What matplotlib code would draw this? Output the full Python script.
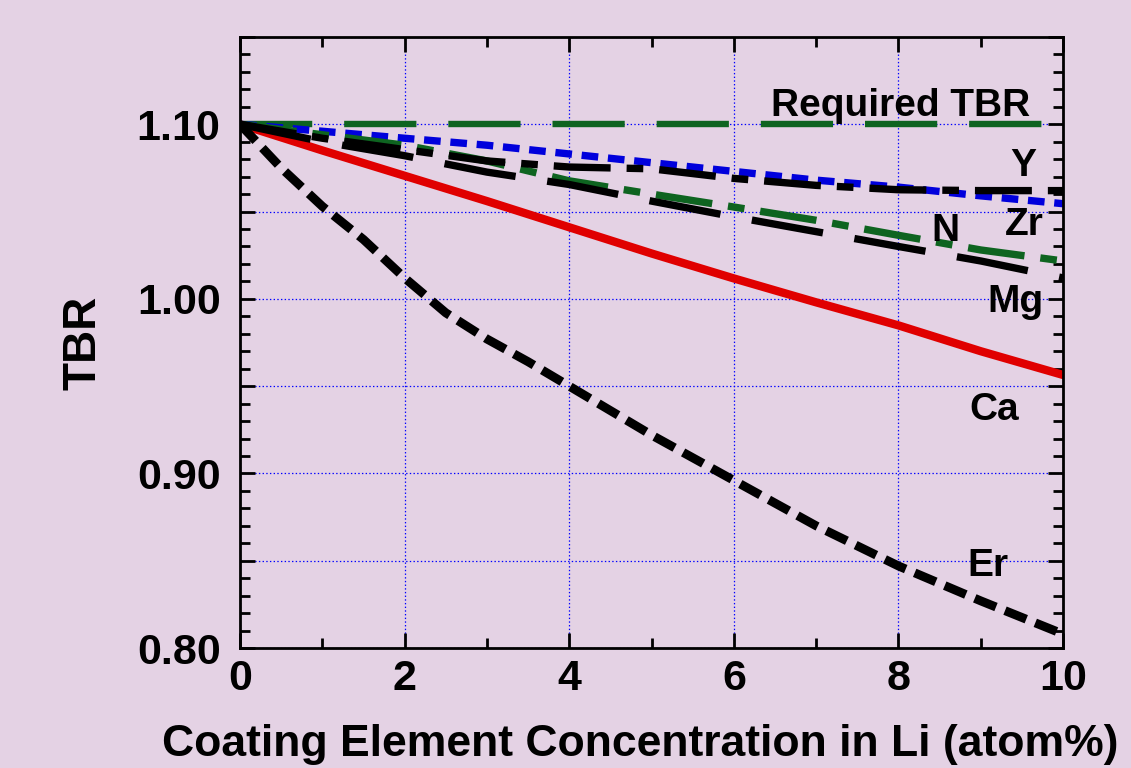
import numpy as np
import matplotlib
matplotlib.use("Agg")
import matplotlib.pyplot as plt
from matplotlib.ticker import MultipleLocator, FuncFormatter

# TBR vs coating element concentration
conc = [0, 1, 2, 3, 4, 5, 6, 7, 8, 9, 10]
tbr_zr = [1.100, 1.096, 1.092, 1.088, 1.083, 1.078, 1.073, 1.068, 1.064, 1.059, 1.0545]
tbr_y = [1.100, 1.092, 1.0855, 1.079, 1.0755, 1.0745, 1.069, 1.065, 1.0625, 1.062, 1.062]
tbr_n = [1.100, 1.094, 1.088, 1.079, 1.0676, 1.060, 1.0526, 1.045, 1.0364, 1.028, 1.0217]
tbr_mg = [1.100, 1.090, 1.082, 1.0726, 1.0655, 1.056, 1.047, 1.0385, 1.030, 1.0217, 1.012]
tbr_ca = [1.100, 1.085, 1.0705, 1.056, 1.041, 1.026, 1.0117, 0.998, 0.9848, 0.970, 0.9564]

conc_er = [0, 0.5, 1, 1.5, 2, 2.5, 3, 3.5, 4, 4.5, 5, 6, 7, 8, 9, 10]
tbr_er = [1.100, 1.075, 1.053, 1.034, 1.012, 0.992, 0.977, 0.964, 0.950,
          0.936, 0.922, 0.896, 0.870, 0.847, 0.827, 0.808]

req_x = [0, 10]
req_tbr = [1.10, 1.10]

bg = "#E4D2E4"
green = "#0E6420"
blue = "#0000DC"
red = "#E00000"

plt.rcParams["font.family"] = ["Liberation Sans", "DejaVu Sans"]
plt.rcParams["font.weight"] = "bold"
plt.rcParams["lines.scale_dashes"] = False

fig = plt.figure(figsize=(11.31, 7.68), dpi=100, facecolor=bg)
ax = fig.add_axes([0.2122, 0.15625, 0.7277, 0.7956])
ax.set_facecolor(bg)

long_short = (0, (41, 11.5, 12, 11.5))
long_dash = (0, (52, 23))

ax.plot(req_x, req_tbr, color=green, lw=4.6, linestyle=long_dash)
ax.plot(conc, tbr_ca, color=red, lw=6, linestyle="-")
ax.plot(conc, tbr_zr, color=blue, lw=5.3, linestyle=(0, (12, 7)))
ax.plot(conc, tbr_n, color=green, lw=5.3, linestyle=long_short)
ax.plot(conc, tbr_mg, color="black", lw=5.3, linestyle=long_dash)
ax.plot(conc, tbr_y, color="black", lw=5.3, linestyle=long_short)
ax.plot(conc_er, tbr_er, color="black", lw=6.4, linestyle=(0, (16.5, 7)))

ax.set_xlim(0, 10)
ax.set_ylim(0.80, 1.15)

ax.xaxis.set_major_locator(MultipleLocator(2))
ax.xaxis.set_minor_locator(MultipleLocator(1))
ax.yaxis.set_major_locator(MultipleLocator(0.05))
ax.yaxis.set_minor_locator(MultipleLocator(0.01))


def ylab(v, pos):
    k = int(round(v * 100))
    if k % 10 == 0:
        return "%.2f" % v
    return ""


ax.yaxis.set_major_formatter(FuncFormatter(ylab))

ax.grid(True, which="major", color="#0000FF", linestyle=":", linewidth=0.9)
ax.tick_params(which="both", direction="in", top=True, right=True,
               width=2, labelsize=31)
ax.tick_params(which="major", length=11)
ax.tick_params(which="minor", length=7)
ax.tick_params(axis="y", pad=14)
ax.tick_params(axis="x", pad=8)
for sp in ax.spines.values():
    sp.set_linewidth(2)

ax.set_xlabel("Coating Element Concentration in Li (atom%)", fontsize=32,
              fontweight="bold", labelpad=18)
ax.xaxis.label.set_x(0.486)
ax.set_ylabel("TBR", fontsize=33, fontweight="bold")
ax.yaxis.set_label_coords(-0.164, 0.5)

lab_kw = dict(fontsize=28, fontweight="bold", ha="center", va="baseline")
ax.text(8.03, 1.1049, "Required TBR", **lab_kw)
ax.text(9.52, 1.0706, "Y", **lab_kw)
ax.text(9.53, 1.0364, "Zr", **lab_kw)
ax.text(8.57, 1.0331, "N", **lab_kw)
ax.text(9.42, 0.9922, "Mg", **lab_kw)
ax.text(9.16, 0.9304, "Ca", **lab_kw)
ax.text(9.09, 0.8413, "Er", **lab_kw)

fig.savefig("out.png", dpi=100, facecolor=bg)
